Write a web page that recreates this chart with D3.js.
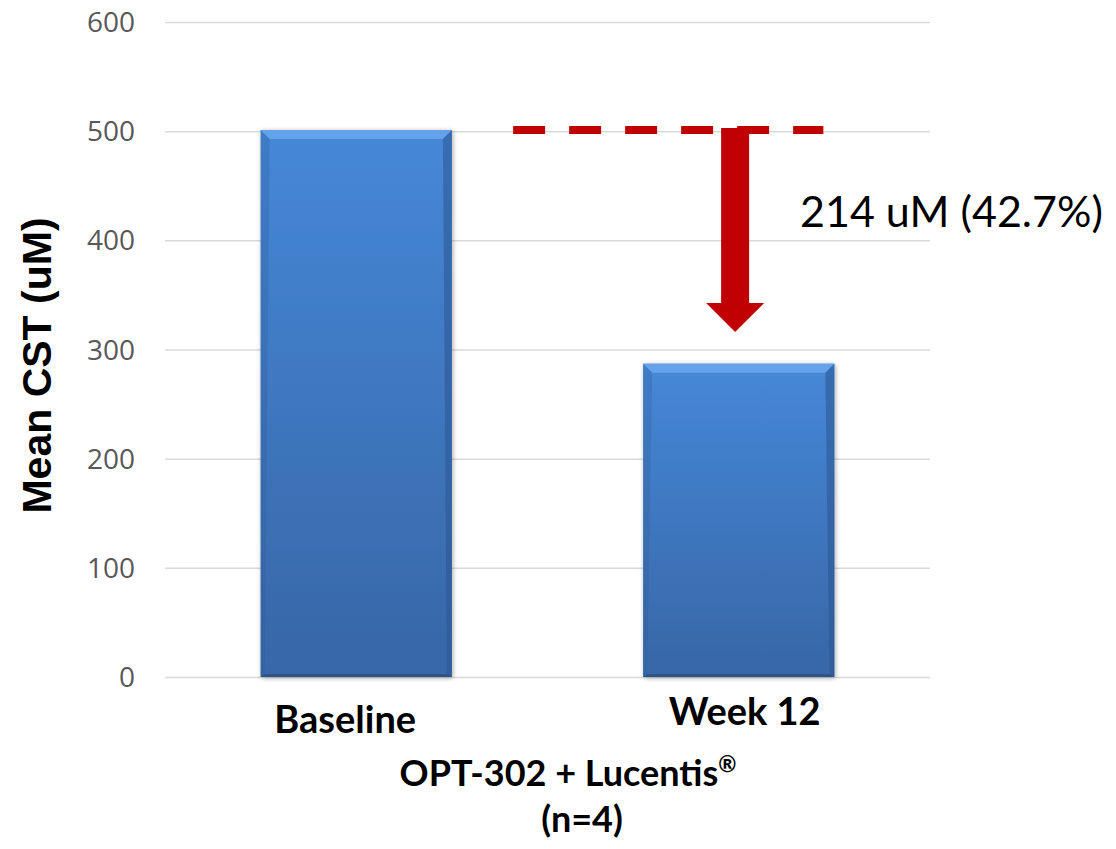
<!DOCTYPE html>
<html>
<head>
<meta charset="utf-8">
<script src="https://cdn.jsdelivr.net/npm/d3@7"></script>
<style>
  html, body { margin: 0; padding: 0; background: #fff; }
  svg { display: block; }
</style>
</head>
<body>
<svg id="chart" width="1116" height="849"></svg>
<script>
// Mean central subfield thickness, OPT-302 + Lucentis (n=4)
const categories = ["Baseline", "Week 12"];
const meanCST = [501, 287];
const yTicks = [0, 100, 200, 300, 400, 500, 600];
const reduction = 214;             // baseline minus week 12
const reductionPct = "42.7%";
const arrowTipValue = 316;         // where the annotation arrow head ends
const yTitle = "Mean CST (uM)";
const groupTitle = ["OPT-302 + Lucentis", "\u00AE", "(n=4)"];

const svg = d3.select("#chart");
const plot = { left: 165, right: 930, top: 22, bottom: 677 };

const x = d3.scaleBand()
  .domain(categories)
  .range([plot.left, plot.right])
  .paddingInner(0.5)
  .paddingOuter(0.25);

const y = d3.scaleLinear()
  .domain([0, 600])
  .range([plot.bottom, plot.top]);

// gradients
const defs = svg.append("defs");
const g1 = defs.append("linearGradient").attr("id", "barFill")
  .attr("x1", 0).attr("y1", 0).attr("x2", 0).attr("y2", 1);
g1.append("stop").attr("offset", "0%").attr("stop-color", "#4688d8");
g1.append("stop").attr("offset", "100%").attr("stop-color", "#3766a6");

const sh = defs.append("filter").attr("id", "shadow")
  .attr("x", "-10%").attr("y", "-10%").attr("width", "120%").attr("height", "120%");
sh.append("feGaussianBlur").attr("in", "SourceAlpha").attr("stdDeviation", 2.5);
sh.append("feOffset").attr("dx", 1).attr("dy", 1).attr("result", "b");
sh.append("feComponentTransfer").append("feFuncA").attr("type", "linear").attr("slope", 0.35);
const mg = sh.append("feMerge");
mg.append("feMergeNode");
mg.append("feMergeNode").attr("in", "SourceGraphic");

// horizontal gridlines + tick labels
const yAxis = d3.axisLeft(y)
  .tickValues(yTicks)
  .tickSize(-(plot.right - plot.left))
  .tickPadding(30)
  .tickFormat(d3.format("d"));

const ga = svg.append("g")
  .attr("transform", `translate(${plot.left},0)`)
  .call(yAxis);
ga.select(".domain").remove();
ga.selectAll(".tick line")
  .attr("stroke", "#d9d9d9")
  .attr("stroke-width", 1.5);
ga.selectAll(".tick text")
  .attr("fill", "#595959")
  .attr("font-family", "'Open Sans', sans-serif")
  .attr("font-size", 28)
  .attr("dy", "0.34em");

// bars with bevelled edges
const bars = svg.append("g").selectAll("g.bar")
  .data(categories.map((c, i) => ({ c, v: meanCST[i] })))
  .join("g").attr("class", "bar");

bars.each(function (d) {
  const g = d3.select(this);
  const x0 = x(d.c), w = x.bandwidth();
  const y0 = y(d.v), y1 = y(0);
  const b = 9;
  g.append("rect")
    .attr("x", x0).attr("y", y0)
    .attr("width", w).attr("height", y1 - y0)
    .attr("fill", "url(#barFill)")
    .attr("filter", "url(#shadow)");
  // top bevel
  g.append("path")
    .attr("d", `M${x0},${y0}L${x0 + w},${y0}L${x0 + w - b},${y0 + b}L${x0 + b},${y0 + b}Z`)
    .attr("fill", "#6aa8f0").attr("opacity", 0.85);
  // right bevel
  g.append("path")
    .attr("d", `M${x0 + w},${y0}L${x0 + w},${y1}L${x0 + w - 5},${y1 - 3}L${x0 + w - b},${y0 + b}Z`)
    .attr("fill", "#2c5690").attr("opacity", 0.55);
  // left bevel
  g.append("path")
    .attr("d", `M${x0},${y0}L${x0 + b},${y0 + b}L${x0 + 4},${y1 - 3}L${x0},${y1}Z`)
    .attr("fill", "#2c5690").attr("opacity", 0.25);
  // bottom edge
  g.append("path")
    .attr("d", `M${x0},${y1}L${x0 + 4},${y1 - 3}L${x0 + w - 5},${y1 - 3}L${x0 + w},${y1}Z`)
    .attr("fill", "#23487c").attr("opacity", 0.6);
});

// category labels
const catDy = [56, 48];
svg.append("g").selectAll("text")
  .data(categories)
  .join("text")
  .attr("x", (d, i) => x(d) + x.bandwidth() / 2 + (i === 0 ? -11 : 6))
  .attr("y", (d, i) => plot.bottom + catDy[i])
  .attr("text-anchor", "middle")
  .attr("font-family", "Lato, 'Open Sans', sans-serif")
  .attr("font-weight", "bold")
  .attr("font-size", 38)
  .attr("fill", "#000")
  .text(d => d);

// group title under the axis
const gt = svg.append("text")
  .attr("x", 568).attr("y", 786)
  .attr("text-anchor", "middle")
  .attr("font-family", "Lato, 'Open Sans', sans-serif")
  .attr("font-weight", "bold")
  .attr("font-size", 36)
  .attr("fill", "#000");
gt.append("tspan").text(groupTitle[0]);
gt.append("tspan")
  .attr("font-size", 22)
  .attr("dy", -14)
  .text(groupTitle[1]);
svg.append("text")
  .attr("x", 582).attr("y", 832)
  .attr("text-anchor", "middle")
  .attr("font-family", "Lato, 'Open Sans', sans-serif")
  .attr("font-weight", "bold")
  .attr("font-size", 36)
  .attr("fill", "#000")
  .text(groupTitle[2]);

// y axis title
svg.append("text")
  .attr("transform", `translate(51,${(plot.top + plot.bottom) / 2 + 16}) rotate(-90)`)
  .attr("text-anchor", "middle")
  .attr("font-family", "'Liberation Sans', Arial, sans-serif")
  .attr("font-weight", "bold")
  .attr("font-size", 41)
  .attr("fill", "#000")
  .text(yTitle);

// reduction annotation: dashed baseline reference and down arrow
const baseY = y(meanCST[0]);
const dashX0 = x(categories[1]) - 130;
const dashX1 = x(categories[1]) + x.bandwidth() - 11;
svg.append("line")
  .attr("x1", dashX0).attr("x2", dashX1)
  .attr("y1", baseY).attr("y2", baseY)
  .attr("stroke", "#c00000")
  .attr("stroke-width", 8)
  .attr("stroke-dasharray", "32 24");

const ax = x(categories[1]) + 92;   // arrow centre line
const shaftHalf = 14, headHalf = 29;
const tipY = y(arrowTipValue);
const headTop = tipY - 29;
svg.append("path")
  .attr("d", `M${ax - shaftHalf},${baseY - 2}L${ax + shaftHalf},${baseY - 2}L${ax + shaftHalf},${headTop}` +
             `L${ax + headHalf},${headTop}L${ax},${tipY}L${ax - headHalf},${headTop}L${ax - shaftHalf},${headTop}Z`)
  .attr("fill", "#c00000");

// annotation label, sized so it spans 800..1105
const lbl = svg.append("text")
  .attr("x", 800).attr("y", 227)
  .attr("font-family", "Lato, 'Open Sans', sans-serif")
  .attr("font-size", 46)
  .attr("fill", "#000")
  .text(`${reduction} uM (${reductionPct})`);
const natural = lbl.node().getComputedTextLength();
lbl.attr("font-size", 46 * 303 / natural);
</script>
</body>
</html>
